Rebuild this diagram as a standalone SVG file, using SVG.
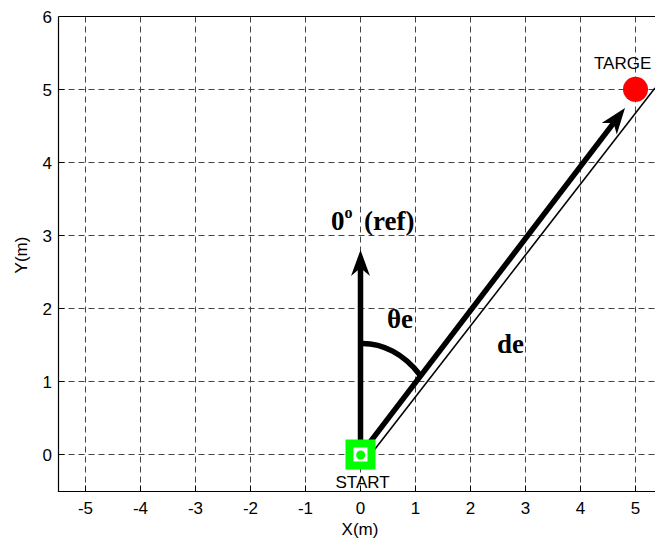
<svg xmlns="http://www.w3.org/2000/svg" width="655" height="539" viewBox="0 0 655 539">
<style>
.grid{stroke:#444;stroke-width:1;stroke-dasharray:6 4;fill:none}
.axis{stroke:#000;stroke-width:1.2;fill:none}
.tick{stroke:#000;stroke-width:1}
.lbl{font-family:"Liberation Sans",Arial,sans-serif;font-size:17px;fill:#000}
.ty{text-anchor:end}
.tx{text-anchor:middle}
.big{font-family:"Liberation Serif","Times New Roman",serif;font-weight:bold;font-size:27px;fill:#000}
.thick{stroke:#000;stroke-width:5.5;fill:none}
.head{fill:#000;stroke:none}
</style>
<rect width="655" height="539" fill="#fff"/>
<g id="grid">
<path class="grid" d="M85.5 16.5V491.5M140.5 16.5V491.5M195.5 16.5V491.5M250.5 16.5V491.5M305.5 16.5V491.5M360.5 16.5V491.5M415.5 16.5V491.5M470.5 16.5V491.5M525.5 16.5V491.5M580.5 16.5V491.5M635.5 16.5V491.5"/>
<path class="grid" d="M58.5 454.5H655M58.5 381.5H655M58.5 308.5H655M58.5 235.5H655M58.5 162.5H655M58.5 89.5H655"/>
</g>
<g id="axes">
<path class="axis" d="M58.5 16.5V491.5H655M58.5 16.5H655"/>
<path class="tick" d="M58.5 454.5h6M58.5 381.5h6M58.5 308.5h6M58.5 235.5h6M58.5 162.5h6M58.5 89.5h6M85.5 491.5v-6M140.5 491.5v-6M195.5 491.5v-6M250.5 491.5v-6M305.5 491.5v-6M360.5 491.5v-6M415.5 491.5v-6M470.5 491.5v-6M525.5 491.5v-6M580.5 491.5v-6M635.5 491.5v-6"/>
<g class="lbl ty">
<text x="52" y="461">0</text>
<text x="52" y="388">1</text>
<text x="52" y="315">2</text>
<text x="52" y="242">3</text>
<text x="52" y="169">4</text>
<text x="52" y="96">5</text>
<text x="52" y="23">6</text>
</g>
<g class="lbl tx">
<text x="85.5" y="514">-5</text>
<text x="140.5" y="514">-4</text>
<text x="195.5" y="514">-3</text>
<text x="250.5" y="514">-2</text>
<text x="305.5" y="514">-1</text>
<text x="360.5" y="514">0</text>
<text x="415.5" y="514">1</text>
<text x="470.5" y="514">2</text>
<text x="525.5" y="514">3</text>
<text x="580.5" y="514">4</text>
<text x="635.5" y="514">5</text>
<text x="360" y="535">X(m)</text>
<text transform="translate(27 255) rotate(-90)">Y(m)</text>
</g>
</g>
<g id="connectors">
<path d="M371.7 453.3L655 88" stroke="#000" stroke-width="1.6" fill="none"/>
<path class="thick" d="M360.5 454.7V268"/>
<path class="head" d="M360.5 250L370 276L360.5 268L351 276Z"/>
<path class="thick" d="M360.5 454.7L613.5 123.1"/>
<path class="head" d="M625 108L616.8 134.4L613.5 123.1L601.7 122.9Z"/>
<path class="thick" d="M360.5 343.5A82.5 111.5 0 0 1 420 375"/>
</g>
<g id="start">
<rect x="349.5" y="443.5" width="22" height="22" fill="#fff" stroke="#00ff00" stroke-width="8"/>
<circle cx="360.7" cy="455" r="4.5" fill="#00ff00"/>
<text class="lbl tx" x="362.5" y="488">START</text>
</g>
<g id="target">
<circle cx="635.5" cy="89.3" r="12.5" fill="#ff0000"/>
<text class="lbl" x="594" y="69">TARGE</text>
</g>
<g id="labels">
<text class="big" x="331" y="230" font-size="30">0<tspan font-size="16" dy="-12">o</tspan><tspan x="364" dy="12">(ref)</tspan></text>
<text class="big" x="387" y="328" font-size="29">θe</text>
<text class="big" x="497" y="353">de</text>
</g>
</svg>
